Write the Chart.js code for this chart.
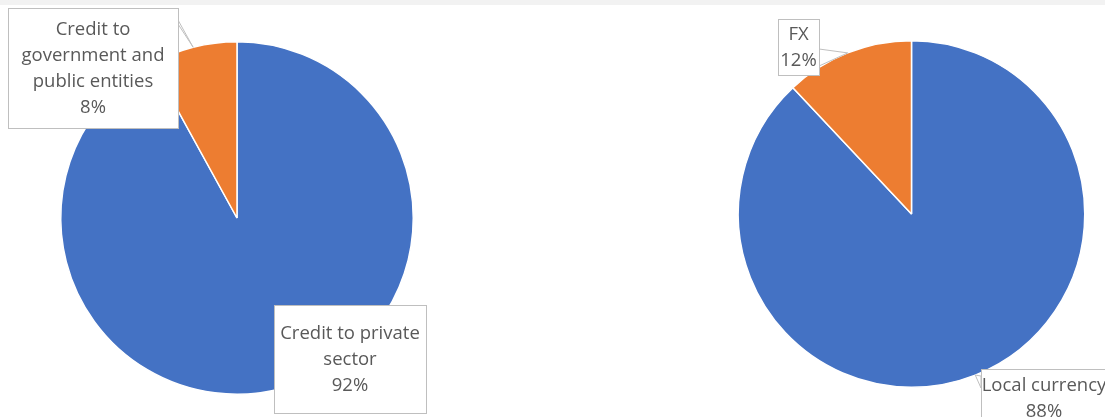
<!DOCTYPE html>
<html>
<head>
<meta charset="utf-8">
<script src="https://cdn.jsdelivr.net/npm/chart.js@4"></script>
<style>
  html, body { margin: 0; padding: 0; background: #ffffff; }
  body { width: 1105px; height: 417px; position: relative; overflow: hidden; }
  .topbar { position: absolute; left: 0; top: 0; width: 1105px; height: 5px; background: #f2f2f2; }
  .pane { position: absolute; top: 0; width: 552px; height: 417px; }
</style>
</head>
<body>
<div class="topbar"></div>
<div class="pane" style="left:0"><canvas id="sectorChart"></canvas></div>
<div class="pane" style="left:553px"><canvas id="currencyChart"></canvas></div>
<script>
// data (shares in %)
const sectorLabels = ["Credit to private sector", "Credit to government and public entities"];
const sectorValues = [92, 8];
const currencyLabels = ["Local currency", "FX"];
const currencyValues = [88, 12];

const sliceColors = ["#4472C4", "#ED7D31"];

// label boxes: position in canvas px, text lines, where the pointer leaves the box
const sectorBoxes = [
  { x: 274, y: 305, w: 152, h: 108, lines: ["Credit to private", "sector"], wedge: null },
  { x: 8, y: 8, w: 170, h: 120, lines: ["Credit to", "government and", "public entities"], wedge: [[178, 20], [178, 24]] },
];
const currencyBoxes = [
  { x: 428, y: 369, w: 126, h: 58, lines: ["Local currency"], wedge: [[428, 376], [428, 388]] },
  { x: 225, y: 19, w: 41, h: 56, lines: ["FX"], wedge: [[266, 49], [266, 66]] },
];

// draws excel style callouts on top of the pie
const calloutPlugin = {
  id: "callouts",
  afterDatasetsDraw(chart, args, opts) {
    const ctx = chart.ctx;
    const meta = chart.getDatasetMeta(0);
    const values = chart.data.datasets[0].data;
    const total = values.reduce((a, b) => a + b, 0);
    ctx.save();
    opts.boxes.forEach((box, i) => {
      const arc = meta.data[i];
      const mid = (arc.startAngle + arc.endAngle) / 2;
      const tipX = arc.x + Math.cos(mid) * arc.outerRadius;
      const tipY = arc.y + Math.sin(mid) * arc.outerRadius;

      ctx.strokeStyle = "#bfbfbf";
      ctx.lineWidth = 1;
      ctx.fillStyle = "#ffffff";
      if (box.wedge) {
        ctx.beginPath();
        ctx.moveTo(box.wedge[0][0], box.wedge[0][1]);
        ctx.lineTo(tipX, tipY);
        ctx.lineTo(box.wedge[1][0], box.wedge[1][1]);
        ctx.closePath();
        ctx.fill();
        ctx.stroke();
      }
      ctx.fillRect(box.x, box.y, box.w, box.h);
      ctx.strokeRect(box.x + 0.5, box.y + 0.5, box.w, box.h);

      const lines = box.lines.concat([Math.round((values[i] / total) * 100) + "%"]);
      const lineH = 26;
      const cx = box.x + box.w / 2;
      const startY = box.y + 1 + box.h / 2 - ((lines.length - 1) * lineH) / 2;
      ctx.fillStyle = "#595959";
      ctx.font = "18.5px 'Open Sans'";
      ctx.textAlign = "center";
      ctx.textBaseline = "middle";
      lines.forEach((t, k) => ctx.fillText(t, cx, startY + k * lineH));
    });
    ctx.restore();
  },
};

const makePie = (id, labels, values, padding, boxes) => {
  const ctx = document.getElementById(id);
  return new Chart(ctx, {
    type: "pie",
    data: {
      labels: labels,
      datasets: [
        {
          data: values,
          backgroundColor: sliceColors,
          borderColor: "#ffffff",
          borderWidth: 1.5,
        },
      ],
    },
    options: {
      responsive: true,
      maintainAspectRatio: false,
      animation: false,
      layout: { padding: padding },
      plugins: {
        legend: { display: false },
        tooltip: { enabled: false },
        callouts: { boxes: boxes },
      },
    },
    plugins: [calloutPlugin],
  });
};

makePie("sectorChart", sectorLabels, sectorValues, { left: 60, right: 138, top: 41, bottom: 22 }, sectorBoxes);
makePie("currencyChart", currencyLabels, currencyValues, { left: 184, right: 19, top: 40, bottom: 29 }, currencyBoxes);
</script>
</body>
</html>
